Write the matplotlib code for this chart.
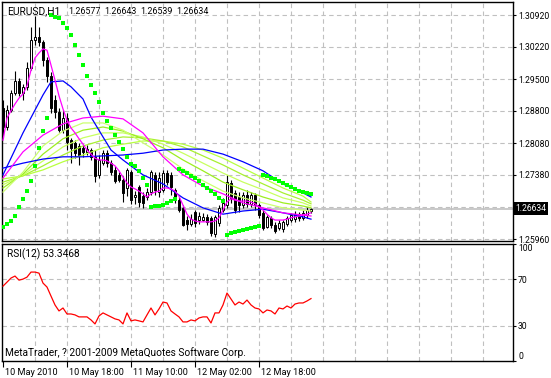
import matplotlib
matplotlib.use('Agg')
import matplotlib.pyplot as plt
import matplotlib.transforms as mtransforms
import numpy as np

plt.rcParams['font.family'] = ['Roboto', 'DejaVu Sans']
FS = 6.2

# ---------------- data ----------------
symbol = "EURUSD,H1"
header_values = ['1.26577', '1.26643', '1.26539', '1.26634']
opens = [1.2886, 1.2844, 1.2882, 1.2919, 1.2946, 1.2919, 1.2933, 1.2975, 1.3037, 1.3043,
         1.3032, 1.2992, 1.2957, 1.2904, 1.2877, 1.2837, 1.2864, 1.2815, 1.2809, 1.2802,
         1.2798, 1.2789, 1.2793, 1.2778, 1.2738, 1.2764, 1.2786, 1.2764, 1.2749, 1.2738,
         1.2727, 1.2709, 1.2744, 1.2689, 1.2711, 1.2691, 1.2689, 1.2700, 1.2738, 1.2700,
         1.2705, 1.2742, 1.2738, 1.2705, 1.2682, 1.2665, 1.2638, 1.2629, 1.2656, 1.2638,
         1.2638, 1.2645, 1.2643, 1.2607, 1.2631, 1.2660, 1.2671, 1.2720, 1.2698, 1.2689,
         1.2671, 1.2694, 1.2674, 1.2694, 1.2671, 1.2654, 1.2623, 1.2643, 1.2627, 1.2620,
         1.2618, 1.2629, 1.2638, 1.2640, 1.2651, 1.2643, 1.2649, 1.26577]
highs = [1.2904, 1.2893, 1.2926, 1.2968, 1.2952, 1.2939, 1.2988, 1.3065, 1.3090, 1.3065,
         1.3037, 1.2999, 1.2966, 1.2915, 1.2886, 1.2882, 1.2875, 1.2820, 1.2815, 1.2809,
         1.2804, 1.2804, 1.2798, 1.2793, 1.2782, 1.2793, 1.2793, 1.2771, 1.2758, 1.2744,
         1.2736, 1.2753, 1.2749, 1.2702, 1.2716, 1.2700, 1.2709, 1.2749, 1.2744, 1.2744,
         1.2749, 1.2749, 1.2744, 1.2709, 1.2689, 1.2671, 1.2647, 1.2651, 1.2660, 1.2656,
         1.2654, 1.2651, 1.2647, 1.2649, 1.2671, 1.2687, 1.2738, 1.2727, 1.2705, 1.2700,
         1.2700, 1.2705, 1.2700, 1.2698, 1.2676, 1.2660, 1.2649, 1.2647, 1.2634, 1.2638,
         1.2638, 1.2647, 1.2654, 1.2658, 1.2656, 1.2660, 1.2667, 1.26643]
lows = [1.2820, 1.2837, 1.2877, 1.2915, 1.2913, 1.2904, 1.2926, 1.2970, 1.3026, 1.3023,
        1.2979, 1.2944, 1.2875, 1.2864, 1.2833, 1.2831, 1.2793, 1.2764, 1.2775, 1.2760,
        1.2778, 1.2782, 1.2771, 1.2722, 1.2731, 1.2760, 1.2756, 1.2738, 1.2720, 1.2722,
        1.2678, 1.2691, 1.2674, 1.2674, 1.2667, 1.2665, 1.2682, 1.2694, 1.2694, 1.2689,
        1.2700, 1.2716, 1.2694, 1.2676, 1.2656, 1.2625, 1.2616, 1.2625, 1.2623, 1.2629,
        1.2636, 1.2627, 1.2603, 1.2600, 1.2625, 1.2656, 1.2665, 1.2676, 1.2654, 1.2656,
        1.2665, 1.2667, 1.2667, 1.2660, 1.2643, 1.2616, 1.2620, 1.2620, 1.2609, 1.2616,
        1.2612, 1.2625, 1.2634, 1.2634, 1.2636, 1.2638, 1.2643, 1.26539]
closes = [1.2844, 1.2882, 1.2919, 1.2946, 1.2919, 1.2933, 1.2975, 1.3037, 1.3043, 1.3032,
          1.2992, 1.2957, 1.2886, 1.2877, 1.2837, 1.2864, 1.2811, 1.2798, 1.2786, 1.2782,
          1.2789, 1.2795, 1.2778, 1.2736, 1.2771, 1.2786, 1.2764, 1.2744, 1.2725, 1.2727,
          1.2698, 1.2749, 1.2682, 1.2694, 1.2678, 1.2676, 1.2700, 1.2744, 1.2705, 1.2731,
          1.2742, 1.2722, 1.2711, 1.2682, 1.2660, 1.2627, 1.2629, 1.2640, 1.2631, 1.2647,
          1.2645, 1.2634, 1.2609, 1.2645, 1.2665, 1.2676, 1.2722, 1.2687, 1.2660, 1.2671,
          1.2694, 1.2674, 1.2694, 1.2671, 1.2649, 1.2620, 1.2645, 1.2627, 1.2614, 1.2631,
          1.2634, 1.2643, 1.2649, 1.2651, 1.2643, 1.2654, 1.2660, 1.26634]

sar = [1.2623, 1.2629, 1.2636, 1.2647, 1.2667, 1.2685, 1.2702, 1.2725, 1.2758, 1.2798,
       1.2835, 1.2864,
       1.3092, 1.3088, 1.3085, 1.3074, 1.3063, 1.3048, 1.3026, 1.3003, 1.2981, 1.2957,
       1.2937, 1.2919, 1.2899, 1.2875, 1.2857, 1.2842, 1.2826, 1.2811, 1.2795, 1.2778,
       1.2762, 1.2758, 1.2747, 1.2731, 1.2716,
       1.2667, 1.2669, 1.2669, 1.2671, 1.2676, 1.2680, 1.2685,
       1.2751, 1.2747, 1.2742, 1.2736, 1.2731, 1.2725, 1.2716, 1.2709, 1.2702, 1.2696,
       1.2687, 1.2680,
       1.2605, 1.2609, 1.2612, 1.2614, 1.2616, 1.2618, 1.2620, 1.2623, 1.2625,
       1.2738, 1.2736, 1.2731, 1.2729, 1.2725, 1.2720, 1.2716, 1.2711, 1.2707, 1.2702,
       1.2700, 1.2698, 1.2696]

ma_fast_pink = [1.2815, 1.2864, 1.2880, 1.2895, 1.2908, 1.2917, 1.2935, 1.2970, 1.2997, 1.3008,
                1.3017, 1.3014, 1.2981, 1.2948, 1.2913, 1.2884, 1.2859, 1.2842, 1.2831, 1.2818,
                1.2806, 1.2793, 1.2784, 1.2775, 1.2771, 1.2771, 1.2769, 1.2764, 1.2758, 1.2747,
                1.2733, 1.2720, 1.2711, 1.2707, 1.2702, 1.2696, 1.2689, 1.2696, 1.2700, 1.2702,
                1.2709, 1.2709, 1.2707, 1.2702, 1.2691, 1.2671, 1.2651, 1.2640, 1.2636, 1.2634,
                1.2634, 1.2634, 1.2634, 1.2636, 1.2643, 1.2660, 1.2678, 1.2685, 1.2682, 1.2680,
                1.2680, 1.2680, 1.2678, 1.2674, 1.2667, 1.2660, 1.2651, 1.2643, 1.2638, 1.2638,
                1.2638, 1.2640, 1.2643, 1.2645, 1.2647, 1.2649, 1.2651, 1.2654]

slow_idx = [0, 5, 10, 15, 20, 25, 30, 35, 40, 45, 50, 55, 60, 65, 70, 75, 77]
ma_slow_pink = [1.2731, 1.2789, 1.2826, 1.2851, 1.2864, 1.2868, 1.2862, 1.2831, 1.2778,
                1.2738, 1.2713, 1.2696, 1.2676, 1.2665, 1.2654, 1.2649, 1.2647]
ma_slow_blue = [1.2753, 1.2764, 1.2773, 1.2778, 1.2778, 1.2780, 1.2782, 1.2786, 1.2793,
                1.2795, 1.2795, 1.2784, 1.2767, 1.2747, 1.2718, 1.2698, 1.2689]
green_1 = [1.2700, 1.2744, 1.2802, 1.2835, 1.2853, 1.2853, 1.2837, 1.2809, 1.2782,
           1.2751, 1.2725, 1.2702, 1.2687, 1.2676, 1.2665, 1.2660, 1.2658]
green_2 = [1.2709, 1.2740, 1.2784, 1.2818, 1.2837, 1.2844, 1.2835, 1.2818, 1.2798,
           1.2771, 1.2747, 1.2722, 1.2705, 1.2689, 1.2676, 1.2669, 1.2665]
green_3 = [1.2716, 1.2738, 1.2769, 1.2800, 1.2820, 1.2831, 1.2831, 1.2822, 1.2806,
           1.2786, 1.2764, 1.2742, 1.2722, 1.2705, 1.2687, 1.2676, 1.2669]
green_4 = [1.2722, 1.2736, 1.2758, 1.2782, 1.2802, 1.2815, 1.2822, 1.2820, 1.2813,
           1.2800, 1.2780, 1.2760, 1.2738, 1.2718, 1.2698, 1.2682, 1.2674]
green_5 = [1.2729, 1.2736, 1.2749, 1.2767, 1.2782, 1.2798, 1.2806, 1.2813, 1.2813,
           1.2806, 1.2793, 1.2775, 1.2753, 1.2731, 1.2709, 1.2691, 1.2678]

blue_fast_idx = [0, 5, 10, 12, 15, 17, 20, 22, 25, 27, 30, 35, 40, 45, 50, 55, 60, 65, 70, 75, 77]
ma_fast_blue = [1.2738, 1.2831, 1.2915, 1.2944, 1.2946, 1.2933, 1.2906, 1.2866, 1.2822, 1.2793,
                1.2771, 1.2738, 1.2718, 1.2687, 1.2665, 1.2651, 1.2658, 1.2662, 1.2654, 1.2645,
                1.2640]

rsi = [64.0, 67.4, 70.9, 72.6, 69.1, 70.0, 71.7, 76.0, 76.0, 75.1,
       66.6, 63.2, 55.5, 47.9, 42.8, 45.3, 40.2, 40.2, 39.4, 37.7,
       37.7, 37.7, 35.1, 31.7, 38.5, 41.1, 39.4, 37.7, 36.0, 35.1,
       31.7, 41.1, 34.3, 35.1, 34.3, 33.4, 39.4, 45.3, 39.4, 44.5,
       50.4, 49.6, 42.8, 40.2, 37.7, 33.4, 33.4, 35.1, 34.3, 36.8,
       37.7, 37.7, 32.5, 41.1, 41.1, 47.9, 58.1, 53.0, 47.9, 50.4,
       48.7, 52.1, 47.9, 45.3, 44.5, 41.1, 43.6, 42.8, 40.2, 45.3,
       44.5, 47.0, 45.3, 48.7, 49.6, 49.6, 51.3, 53.3468]

price_ticks = [1.3092, 1.3022, 1.2950, 1.2880, 1.2808, 1.2738, 1.2596]
price_tick_labels = ['1.30920', '1.30220', '1.29500', '1.28800', '1.28080', '1.27380', '1.25960']
price_grid = [1.3092, 1.3022, 1.2950, 1.2880, 1.2808, 1.2738, 1.2667, 1.2596]
time_ticks = [0, 16, 32, 48, 64]
time_labels = ['10 May 2010', '10 May 18:00', '11 May 10:00', '12 May 02:00', '12 May 18:00']
rsi_ticks = [100, 70, 30, 0]
rsi_levels = [70, 30]
last_price = 1.26634

# ---------------- layout ----------------
W, H = 551, 378
fig = plt.figure(figsize=(W / 100, H / 100), dpi=100)
fig.patch.set_facecolor('white')


def rect(x0, y0, x1, y1):
    return [x0 / W, 1 - y1 / H, (x1 - x0) / W, (y1 - y0) / H]


ax = fig.add_axes(rect(1.5, 1.5, 513, 241))
ax2 = fig.add_axes(rect(1.5, 244, 513, 361), sharex=ax)

n = len(closes)
x = np.arange(n)
grid_kw = dict(color='#c0c0c0', lw=0.8, linestyle=(0, (4, 3)), zorder=0)

# main chart
ax.set_xlim(-0.375, 127.5)
ax.set_ylim(1.25916, 1.31219)
for g in price_grid:
    ax.axhline(g, **grid_kw)
for gx in range(8, 128, 8):
    ax.axvline(gx, **grid_kw)
    ax2.axvline(gx, **grid_kw)
ax.axhline(last_price, color='#c0c0c0', lw=1.2, zorder=0.5)

o = np.array(opens); c = np.array(closes)
ax.vlines(x, lows, highs, color='black', lw=0.8, zorder=2)
up = c >= o
ax.bar(x, c - o, bottom=o, width=0.5,
       color=np.where(up, 'white', 'black'), edgecolor='black', lw=0.7, zorder=2.5)

green_cols = ['#b8ff40', '#a8f030', '#c8ff60', '#9cee20', '#ccff70']
for gl, col in zip([green_5, green_4, green_3, green_2, green_1], green_cols):
    ax.plot(slow_idx, gl, color=col, lw=0.9, zorder=3)
ax.plot(slow_idx, ma_slow_blue, color='#0000ff', lw=0.9, zorder=3.2)
ax.plot(blue_fast_idx, ma_fast_blue, color='#0000ff', lw=0.9, zorder=3.2)
ax.plot(slow_idx, ma_slow_pink, color='#ff00ff', lw=0.9, zorder=3.3)
ax.plot(x, ma_fast_pink, color='#ff00ff', lw=0.9, zorder=3.3)
ax.plot(x, sar, linestyle='none', marker='s', ms=2.6, color='#00ff00',
        markeredgewidth=0, zorder=4)

ax.yaxis.tick_right()
ax.set_yticks(price_ticks)
ax.set_yticklabels(price_tick_labels)
ax.tick_params(axis='y', direction='out', length=2.2, width=0.8, pad=1.5, labelsize=FS)
ax.tick_params(axis='x', bottom=False, labelbottom=False)
for s in ax.spines.values():
    s.set_linewidth(1.0)

trans = mtransforms.blended_transform_factory(ax.transAxes, ax.transData)
ax.text(1.004, last_price, '1.26634', transform=trans, color='white', fontsize=FS,
        va='center', ha='left',
        bbox=dict(facecolor='black', edgecolor='none', pad=1.5), zorder=10, clip_on=False)

# RSI panel
ax2.set_ylim(0, 100)
for lv in rsi_levels:
    ax2.axhline(lv, **grid_kw)
ax2.plot(x, rsi, color='#ff0000', lw=0.9, zorder=3)
ax2.yaxis.tick_right()
ax2.set_yticks(rsi_ticks)
ax2.set_yticklabels([str(t) for t in rsi_ticks])
ax2.tick_params(axis='y', direction='out', length=2.2, width=0.8, pad=1.5, labelsize=FS)
labs = ax2.get_yticklabels()
labs[0].set_verticalalignment('top')
labs[-1].set_verticalalignment('bottom')
ax2.set_xticks(time_ticks)
ax2.set_xticklabels(time_labels)
ax2.tick_params(axis='x', direction='out', length=4, width=0.8, pad=1, labelsize=6.6)
off = mtransforms.ScaledTranslation(2 / 100, 0, fig.dpi_scale_trans)
for lab in ax2.get_xticklabels():
    lab.set_horizontalalignment('left')
    lab.set_transform(lab.get_transform() + off)
for s in ax2.spines.values():
    s.set_linewidth(1.0)

# header: symbol then O H L C of the last bar
fig.text(7 / W, 1 - 11 / H, symbol, fontsize=7.4, va='center', ha='left')
for k, v in enumerate(header_values):
    fig.text((68 + 36 * k) / W, 1 - 11 / H, v, fontsize=6.4, va='center', ha='left')
fig.text(7 / W, 1 - 254 / H, 'RSI(12) 53.3468', fontsize=7.3, va='center', ha='left')
fig.text(5 / W, 1 - 353 / H, 'MetaTrader, ? 2001-2009 MetaQuotes Software Corp.',
         fontsize=7.3, va='center', ha='left')

fig.savefig('out.png', dpi=100)
